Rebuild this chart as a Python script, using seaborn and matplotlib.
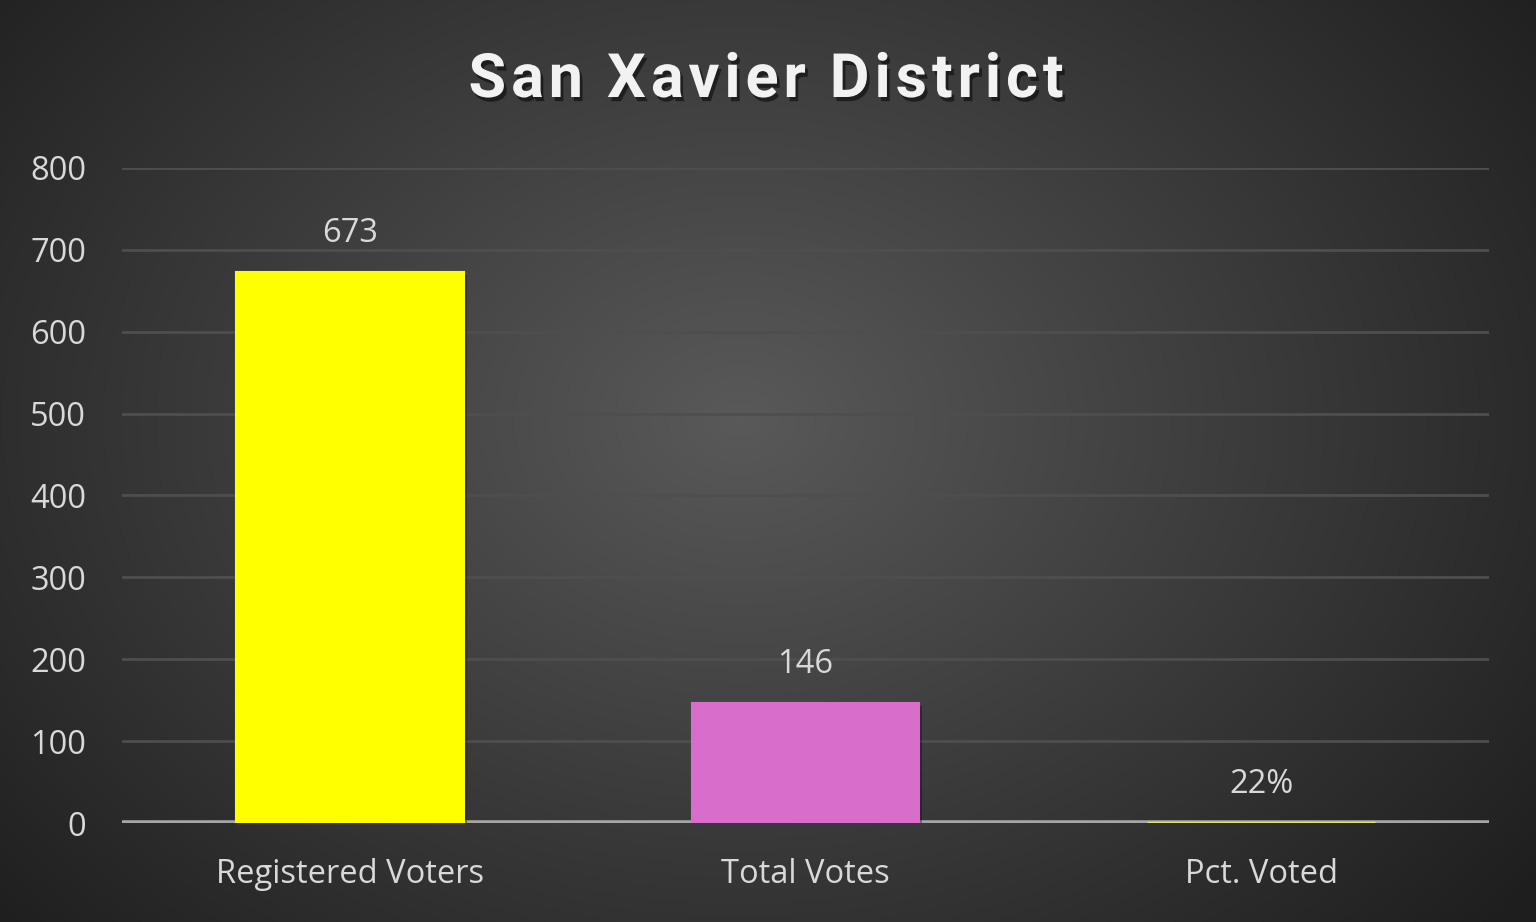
import matplotlib
matplotlib.use("Agg")
import matplotlib.pyplot as plt
import matplotlib.patheffects as pe
import numpy as np
import pandas as pd
import seaborn as sns

categories = ["Registered Voters", "Total Votes", "Pct. Voted"]
values = [673, 146, 0.22]
value_labels = ["673", "146", "22%"]
bar_colors = ["#FFFF00", "#D86DCB", "#E2E27A"]
y_ticks = [0, 100, 200, 300, 400, 500, 600, 700, 800]
title = "San Xavier District"

sns.set_theme(style="dark")
plt.rcParams["font.family"] = ["Open Sans", "DejaVu Sans"]

df = pd.DataFrame({"category": categories, "value": values})

fig = plt.figure(figsize=(15.36, 9.22), dpi=100)

# radial gradient background
bg = fig.add_axes([0, 0, 1, 1], zorder=-10)
yy, xx = np.mgrid[0:922, 0:1536]
r = np.sqrt(((xx - 740) / 1000.0) ** 2 + ((yy - 420) / 760.0) ** 2)
shade = np.clip(0.35 - 0.23 * r, 0.12, 0.35)
bg.imshow(np.dstack([shade] * 3), aspect="auto", extent=[0, 1, 0, 1])
bg.set_axis_off()

ax = fig.add_axes([122 / 1536, 1 - 823 / 922, 1367 / 1536, (823 - 168) / 922])
ax.set_facecolor("none")
sns.barplot(data=df, x="category", y="value", hue="category", palette=bar_colors,
            width=0.5, legend=False, ax=ax, zorder=3, saturation=1)

shadow = [pe.SimplePatchShadow(offset=(2, -2), shadow_rgbFace="black", alpha=0.35), pe.Normal()]
for patch, col in zip(ax.patches, bar_colors):
    patch.set_edgecolor(col)
    patch.set_linewidth(1.5)
    patch.set_path_effects(shadow)
ax.patches[2].set_linewidth(2.5)

ax.set_ylim(0, 800)
ax.set_xlim(-0.5, 2.5)
ax.set_yticks(y_ticks)
ax.grid(axis="y", color="#4e4e4e", linewidth=2, zorder=0)
ax.grid(axis="x", visible=False)
for s in ax.spines.values():
    s.set_visible(False)
ax.axhline(0, color="#a6a6a6", linewidth=4, zorder=2)

ax.tick_params(axis="y", colors="#d9d9d9", labelsize=23.5, length=0, pad=26)
ax.tick_params(axis="x", colors="#d9d9d9", labelsize=23.5, length=0, pad=25)
ax.set_xlabel("")
ax.set_ylabel("")

for i, (v, lab) in enumerate(zip(values, value_labels)):
    ax.annotate(lab, (i, v), xytext=(0, 16), textcoords="offset points",
                ha="center", va="bottom", color="#d9d9d9", fontsize=23.5)

# title with letter spacing: place each character separately
fig.canvas.draw()
renderer = fig.canvas.get_renderer()
title_kw = dict(color="#f2f2f2", fontsize=44, fontweight="bold",
                family=["Roboto", "DejaVu Sans"], va="baseline", ha="left",
                path_effects=[pe.withSimplePatchShadow(offset=(2, -3), shadow_rgbFace="black", alpha=0.5)])
tracking = 5.0
chars = []
for ch in title:
    t = fig.text(0, 1 - 97 / 922, ch, **title_kw)
    w = t.get_window_extent(renderer).width if ch != " " else 14
    chars.append((t, w))
total = sum(w for _, w in chars) + tracking * (len(chars) - 1)
x = 766 - total / 2
for t, w in chars:
    t.set_x(x / 1536)
    x += w + tracking

fig.savefig("out.png", dpi=100)
